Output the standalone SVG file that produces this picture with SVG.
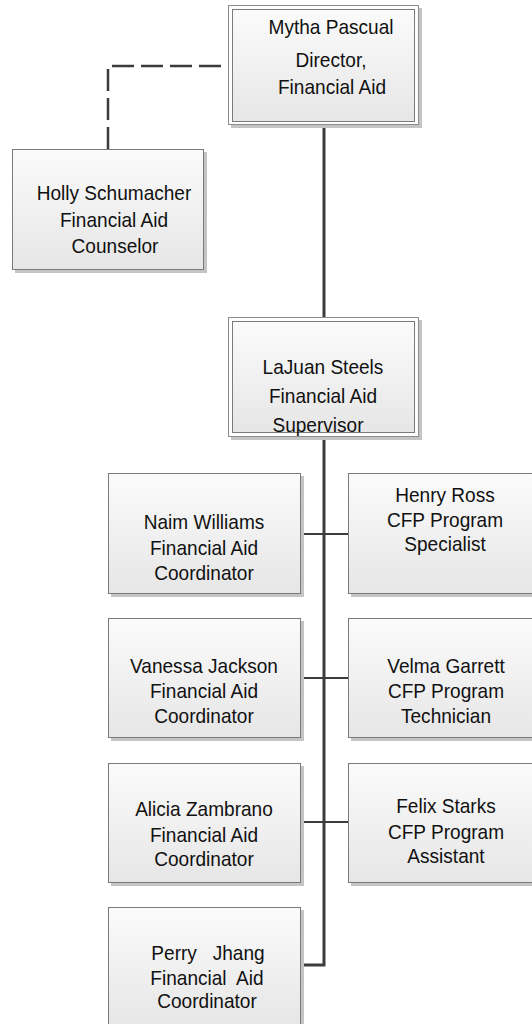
<svg xmlns="http://www.w3.org/2000/svg" width="532" height="1024" viewBox="0 0 532 1024">
<defs>
<linearGradient id="fill" x1="0" y1="0" x2="0" y2="1">
<stop offset="0" stop-color="#fbfbfb"/>
<stop offset="1" stop-color="#e6e6e6"/>
</linearGradient>
<style>
.sh{fill:#c4c4c4}
.bx{fill:url(#fill);stroke:#7a7a7a;stroke-width:1}
.ob{fill:#fdfdfd;stroke:#8c8c8c;stroke-width:1}
.t{font-family:"Liberation Sans",Arial,sans-serif;font-size:20.5px;fill:#111;text-anchor:middle;white-space:pre;transform-box:fill-box;transform-origin:center;transform:scaleX(0.93)}
.main{fill:none;stroke:#3c3c3c;stroke-width:3}
.br{fill:none;stroke:#3c3c3c;stroke-width:2}
.dash{fill:none;stroke:#3c3c3c;stroke-width:2.5;stroke-dasharray:22 7}
</style>
</defs>
<rect width="532" height="1024" fill="#fff"/>
<g id="connectors">
<path class="dash" d="M108 149V66H228"/>
<path class="main" d="M324 125V965H301"/>
<path class="br" d="M301 534H348M301 678H348M301 822H348"/>
</g>
<g id="n-mytha">
<rect class="sh" x="231" y="8" width="191" height="120"/>
<rect class="ob" x="228.5" y="5.5" width="190" height="119"/>
<rect class="bx" x="232.5" y="9.5" width="182" height="112"/>
<text class="t" x="331" y="34">Mytha Pascual</text>
<text class="t" x="331" y="67">Director,</text>
<text class="t" x="332" y="94">Financial Aid</text>
</g>
<g id="n-holly">
<rect class="sh" x="15" y="152" width="192" height="121"/>
<rect class="bx" x="12.5" y="149.5" width="191" height="120"/>
<text class="t" x="114" y="200">Holly Schumacher</text>
<text class="t" x="114" y="227">Financial Aid</text>
<text class="t" x="115" y="253">Counselor</text>
</g>
<g id="n-lajuan">
<rect class="sh" x="231" y="320" width="191" height="120"/>
<rect class="ob" x="228.5" y="317.5" width="190" height="119"/>
<rect class="bx" x="232.5" y="321.5" width="182" height="111"/>
<text class="t" x="323" y="374">LaJuan Steels</text>
<text class="t" x="323" y="403">Financial Aid</text>
<text class="t" x="318" y="432">Supervisor</text>
</g>
<g id="n-naim">
<rect class="sh" x="111" y="476" width="193" height="121"/>
<rect class="bx" x="108.5" y="473.5" width="192" height="120"/>
<text class="t" x="204" y="529">Naim Williams</text>
<text class="t" x="204" y="555">Financial Aid</text>
<text class="t" x="204" y="580">Coordinator</text>
</g>
<g id="n-henry">
<rect class="sh" x="351" y="476" width="193" height="121"/>
<rect class="bx" x="348.5" y="473.5" width="192" height="120"/>
<text class="t" x="445" y="502">Henry Ross</text>
<text class="t" x="445" y="527">CFP Program</text>
<text class="t" x="445" y="551">Specialist</text>
</g>
<g id="n-vanessa">
<rect class="sh" x="111" y="621" width="193" height="120"/>
<rect class="bx" x="108.5" y="618.5" width="192" height="119"/>
<text class="t" x="204" y="673">Vanessa Jackson</text>
<text class="t" x="204" y="698">Financial Aid</text>
<text class="t" x="204" y="723">Coordinator</text>
</g>
<g id="n-velma">
<rect class="sh" x="351" y="621" width="193" height="120"/>
<rect class="bx" x="348.5" y="618.5" width="192" height="119"/>
<text class="t" x="446" y="673">Velma Garrett</text>
<text class="t" x="446" y="698">CFP Program</text>
<text class="t" x="446" y="723">Technician</text>
</g>
<g id="n-alicia">
<rect class="sh" x="111" y="766" width="193" height="120"/>
<rect class="bx" x="108.5" y="763.5" width="192" height="119"/>
<text class="t" x="204" y="816">Alicia Zambrano</text>
<text class="t" x="204" y="842">Financial Aid</text>
<text class="t" x="204" y="866">Coordinator</text>
</g>
<g id="n-felix">
<rect class="sh" x="351" y="766" width="193" height="120"/>
<rect class="bx" x="348.5" y="763.5" width="192" height="119"/>
<text class="t" x="446" y="813">Felix Starks</text>
<text class="t" x="446" y="839">CFP Program</text>
<text class="t" x="446" y="863">Assistant</text>
</g>
<g id="n-perry">
<rect class="sh" x="111" y="910" width="193" height="120"/>
<rect class="bx" x="108.5" y="907.5" width="192" height="119"/>
<text class="t" x="208" y="960">Perry   Jhang</text>
<text class="t" x="207" y="985">Financial  Aid</text>
<text class="t" x="207" y="1008">Coordinator</text>
</g>
</svg>
